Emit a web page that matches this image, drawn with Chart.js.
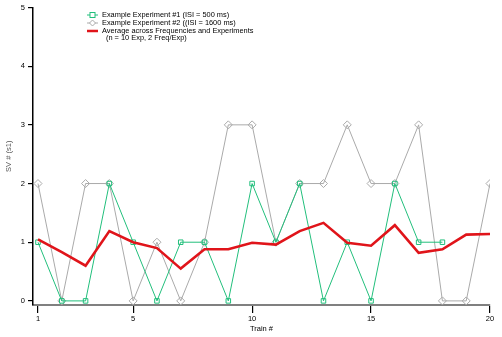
<!DOCTYPE html>
<html>
<head>
<meta charset="utf-8">
<script src="https://cdn.jsdelivr.net/npm/chart.js@4"></script>
<style>
  html, body { margin: 0; padding: 0; background: #fff; }
  #wrap { position: relative; width: 502px; height: 337px; }
  #c { position: absolute; left: 0; top: 0; }
  #legend { position: absolute; left: 87px; top: 11px; font-family: "Liberation Sans", Arial, sans-serif; font-size: 7.4px; color: #000; line-height: 7.8px; }
  .row { position: relative; height: 7.8px; white-space: nowrap; }
  .sym { position: absolute; left: 0; top: 0; width: 11px; height: 8px; }
  .txt { position: absolute; left: 15px; top: 0; }
</style>
</head>
<body>
<div id="wrap">
<canvas id="c" width="502" height="337"></canvas>
<div id="legend">
  <div class="row"><svg class="sym" viewBox="0 0 11 8"><line x1="0" y1="4" x2="11" y2="4" stroke="#22bf7c" stroke-width="1"/><rect x="3" y="1.5" width="5" height="5" fill="#fff" stroke="#22bf7c" stroke-width="1"/></svg><span class="txt">Example Experiment #1 (ISI = 500 ms)</span></div>
  <div class="row"><svg class="sym" viewBox="0 0 11 8"><line x1="0" y1="4" x2="11" y2="4" stroke="#aaaaaa" stroke-width="1"/><polygon points="5.5,1 8.5,4 5.5,7 2.5,4" fill="#fff" stroke="#aaaaaa" stroke-width="1"/></svg><span class="txt">Example Experiment #2 ((ISI = 1600 ms)</span></div>
  <div class="row"><svg class="sym" viewBox="0 0 11 8"><line x1="0" y1="4" x2="11" y2="4" stroke="#e0141a" stroke-width="2.5"/></svg><span class="txt">Average across Frequencies and Experiments</span></div>
  <div class="row"><span class="txt" style="left:19px">(n = 10 Exp, 2 Freq/Exp)</span></div>
</div>
</div>
<script>
const trains = [1,2,3,4,5,6,7,8,9,10,11,12,13,14,15,16,17,18,19,20];
const exp1 = [1,0,0,2,1,0,1,1,0,2,1,2,0,1,0,2,1,1,null,null];
const exp2 = [2,0,2,2,0,1,0,1,3,3,1,2,2,3,2,2,3,0,0,2];
const avg = [1.05,0.83,0.6,1.19,1.0,0.9,0.55,0.88,0.88,0.99,0.96,1.19,1.33,0.99,0.94,1.29,0.82,0.88,1.13,1.14];
const xTicks = [1,5,10,15,20];
const yTicks = [0,1,2,3,4,5];

const toPts = arr => trains.map((t,i) => ({x: t, y: arr[i]}));
const FONT = "Liberation Sans, Arial, sans-serif";

new Chart(document.getElementById('c'), {
  type: 'line',
  data: {
    datasets: [
      { label: 'Average across Frequencies and Experiments (n = 10 Exp, 2 Freq/Exp)', data: toPts(avg),
        borderColor: '#e0141a', borderWidth: 2.6, pointRadius: 0, tension: 0 },
      { label: 'Example Experiment #1 (ISI = 500 ms)', data: toPts(exp1),
        borderColor: '#22bf7c', borderWidth: 1, pointStyle: 'rect', pointRadius: 3.2,
        pointBackgroundColor: 'rgba(255,255,255,0)', pointBorderColor: '#22bf7c', pointBorderWidth: 1, tension: 0 },
      { label: 'Example Experiment #2 ((ISI = 1600 ms)', data: toPts(exp2),
        borderColor: '#aaaaaa', borderWidth: 1, pointStyle: 'rectRot', pointRadius: 4,
        pointBackgroundColor: 'rgba(255,255,255,0)', pointBorderColor: '#aaaaaa', pointBorderWidth: 1, tension: 0 }
    ]
  },
  options: {
    responsive: false,
    animation: false,
    layout: { padding: { left: 0, right: 12, top: 6, bottom: 0 } },
    plugins: { legend: { display: false }, tooltip: { enabled: false } },
    scales: {
      x: {
        type: 'linear', min: 0.79, max: 20,
        afterBuildTicks: s => { s.ticks = xTicks.map(v => ({value: v})); },
        afterFit: s => { s.height = 32; },
        border: { display: true, color: '#808080', width: 2 },
        grid: { drawOnChartArea: false, drawTicks: true, tickLength: 8, color: '#000', lineWidth: 1.2 },
        ticks: { color: '#000', font: { family: FONT, size: 7.5 }, padding: 1, maxRotation: 0 },
        title: { display: true, text: 'Train #', color: '#000', font: { family: FONT, size: 7.5 }, padding: { top: 0, bottom: 4 } }
      },
      y: {
        type: 'linear', min: -0.07, max: 5,
        afterBuildTicks: s => { s.ticks = yTicks.map(v => ({value: v})); },
        afterFit: s => { s.width = 33; },
        border: { display: true, color: '#000', width: 1.5 },
        grid: { drawOnChartArea: false, drawTicks: true, tickLength: 5, color: '#000', lineWidth: 1.2 },
        ticks: { color: '#000', font: { family: FONT, size: 7.5 }, padding: 3 },
        title: { display: true, text: 'SV # (s1)', color: '#555', font: { family: FONT, size: 7.5 }, padding: { top: 4, bottom: 0 } }
      }
    }
  }
});
</script>
</body>
</html>
